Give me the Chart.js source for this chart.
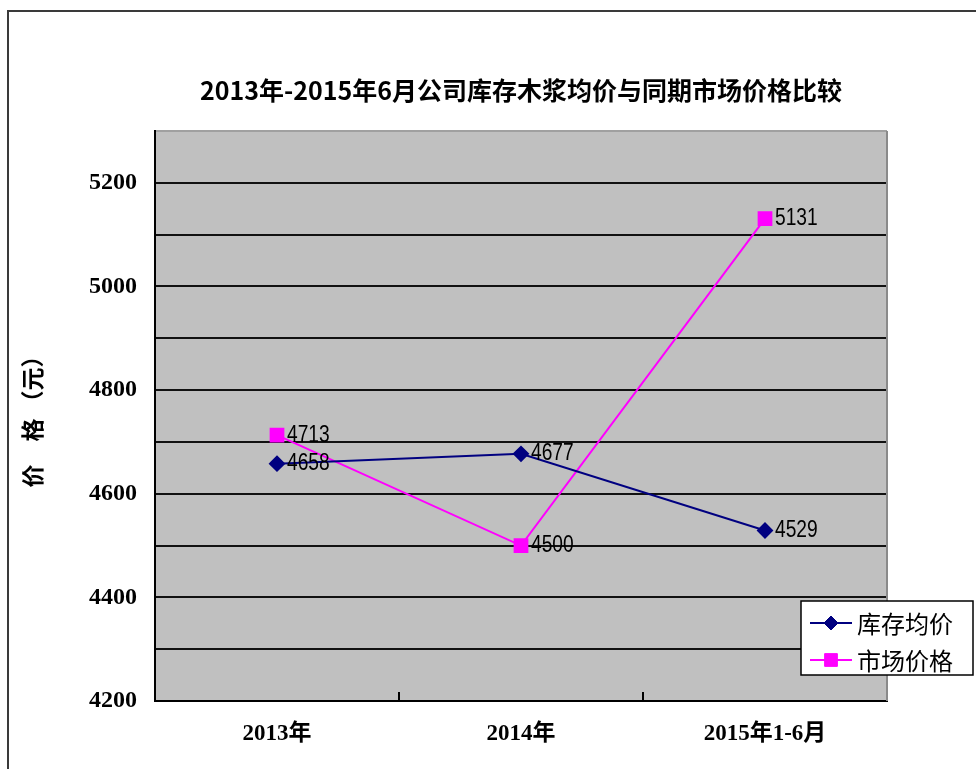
<!DOCTYPE html>
<html><head><meta charset="utf-8">
<script src="https://cdn.jsdelivr.net/npm/chart.js@4.4.1/dist/chart.umd.min.js"></script>
<style>html,body{margin:0;padding:0;background:#fff;overflow:hidden;} #wrap{width:976px;height:769px;position:relative;}</style>
</head><body><div id="wrap"><canvas id="c" width="976" height="769"></canvas></div>
<script>
const categories = ['2013年', '2014年', '2015年1-6月'];
const inventoryAvg = [4658, 4677, 4529];
const marketPrice = [4713, 4500, 5131];
const seriesNames = ['库存均价', '市场价格'];
const yMin = 4200, yMax = 5300, yStep = 100, yLabelStep = 200;
const titleText = '2013年-2015年6月公司库存木浆均价与同期市场价格比较';
const yAxisTitle = '价　格 （元）';

const NAVY = '#000080', MAGENTA = '#FF00FF';
const CJK = '"Noto Sans CJK SC", sans-serif';

function drawMarker(ctx, style, r, x, y, color) {
  ctx.save();
  ctx.fillStyle = color; ctx.strokeStyle = color; ctx.lineWidth = 1;
  ctx.beginPath();
  if (style === 'rectRot') {
    ctx.moveTo(x - r, y); ctx.lineTo(x, y - r); ctx.lineTo(x + r, y); ctx.lineTo(x, y + r);
  } else {
    const s = Math.SQRT1_2 * r;
    ctx.rect(x - s, y - s, 2 * s, 2 * s);
  }
  ctx.closePath(); ctx.fill(); ctx.stroke();
  ctx.restore();
}

const decor = {
  id: 'decor',
  beforeDraw(chart) {
    const {ctx, chartArea: a} = chart;
    ctx.save();
    ctx.fillStyle = '#fff';
    ctx.fillRect(0, 0, chart.width, chart.height);
    ctx.strokeStyle = '#3a3a3a'; ctx.lineWidth = 2;
    ctx.beginPath();
    ctx.moveTo(8, chart.height); ctx.lineTo(8, 11); ctx.lineTo(chart.width, 11);
    ctx.stroke();
    ctx.fillStyle = '#C0C0C0';
    ctx.fillRect(a.left, a.top, a.right - a.left, a.bottom - a.top);
    ctx.restore();
  },
  afterDatasetsDraw(chart) {
    const {ctx} = chart;
    chart.data.datasets.forEach((ds, i) => {
      chart.getDatasetMeta(i).data.forEach((pt, j) => {
        ctx.save();
        ctx.translate(pt.x + 10, pt.y);
        ctx.scale(0.8, 1);
        ctx.font = '24px "Liberation Sans", sans-serif';
        ctx.fillStyle = '#000'; ctx.textAlign = 'left'; ctx.textBaseline = 'middle';
        ctx.fillText(String(ds.data[j]), 0, 0);
        ctx.restore();
      });
    });
  },
  afterDraw(chart) {
    const {ctx, chartArea: a} = chart;
    const xs = chart.scales.x;
    ctx.save();
    // right border of plot
    ctx.strokeStyle = '#8a8a8a'; ctx.lineWidth = 2;
    ctx.beginPath(); ctx.moveTo(a.right, a.top); ctx.lineTo(a.right, a.bottom); ctx.stroke();
    // inward category ticks
    ctx.strokeStyle = '#000'; ctx.lineWidth = 2;
    for (let i = 1; i < categories.length; i++) {
      const x = Math.round((xs.getPixelForValue(i - 1) + xs.getPixelForValue(i)) / 2);
      ctx.beginPath(); ctx.moveTo(x, a.bottom); ctx.lineTo(x, a.bottom - 9); ctx.stroke();
    }
    // legend
    const bx = a.right - 86, by = a.bottom - 100, bw = 172, bh = 74;
    ctx.fillStyle = '#fff'; ctx.fillRect(bx, by, bw, bh);
    ctx.strokeStyle = '#000'; ctx.lineWidth = 1.5; ctx.strokeRect(bx, by, bw, bh);
    chart.data.datasets.forEach((ds, i) => {
      const y = by + 22 + i * 37;
      ctx.strokeStyle = ds.borderColor; ctx.lineWidth = 2;
      ctx.beginPath(); ctx.moveTo(bx + 9, y); ctx.lineTo(bx + 51, y); ctx.stroke();
      drawMarker(ctx, ds.pointStyle, ds.pointRadius, bx + 30, y, ds.borderColor);
      ctx.fillStyle = '#000'; ctx.font = '24px ' + CJK;
      ctx.textAlign = 'left'; ctx.textBaseline = 'middle';
      ctx.fillText(ds.label, bx + 56, y + 1);
    });
    ctx.restore();
  }
};

new Chart(document.getElementById('c'), {
  type: 'line',
  data: {
    labels: categories,
    datasets: [
      { label: seriesNames[0], data: inventoryAvg, borderColor: NAVY, backgroundColor: NAVY,
        borderWidth: 2, pointStyle: 'rectRot', pointRadius: 7, pointHoverRadius: 7,
        pointBackgroundColor: NAVY, pointBorderColor: NAVY, tension: 0 },
      { label: seriesNames[1], data: marketPrice, borderColor: MAGENTA, backgroundColor: MAGENTA,
        borderWidth: 2, pointStyle: 'rect', pointRadius: 9, pointHoverRadius: 9,
        pointBackgroundColor: MAGENTA, pointBorderColor: MAGENTA, tension: 0 }
    ]
  },
  options: {
    responsive: false, animation: false, devicePixelRatio: 1,
    layout: { padding: { left: 0, right: 89, top: 0, bottom: 0 } },
    plugins: {
      legend: { display: false },
      tooltip: { enabled: false },
      title: {
        display: true, text: titleText, fullSize: false, color: '#000',
        font: { family: CJK, size: 25, weight: 'bold' },
        padding: { top: 75, bottom: 26 }
      }
    },
    scales: {
      x: {
        offset: true,
        grid: { display: false, drawTicks: false },
        border: { display: true, color: '#000', width: 2 },
        ticks: { color: '#000', padding: 19,
          font: { family: '"Liberation Serif", "Noto Sans CJK SC", serif', size: 23, weight: 'bold' } },
        afterFit: s => { s.height = 68; }
      },
      y: {
        min: yMin, max: yMax,
        grid: { drawTicks: false, lineWidth: 2,
          color: c => (c.tick && c.tick.value === yMax) ? '#a0a0a0' : '#111' },
        border: { display: true, color: '#000', width: 2 },
        ticks: { stepSize: yStep, autoSkip: false, padding: 18, color: '#000',
          font: { family: '"Liberation Serif", serif', size: 24, weight: 'bold' },
          callback: v => (v % yLabelStep === 0 ? String(v) : '') },
        title: { display: true, text: yAxisTitle, color: '#000',
          font: { family: CJK, size: 23, weight: 'bold' }, padding: { top: 18, bottom: 0 } },
        afterFit: s => { s.width = 155; }
      }
    }
  },
  plugins: [decor]
});
</script>
</body></html>
